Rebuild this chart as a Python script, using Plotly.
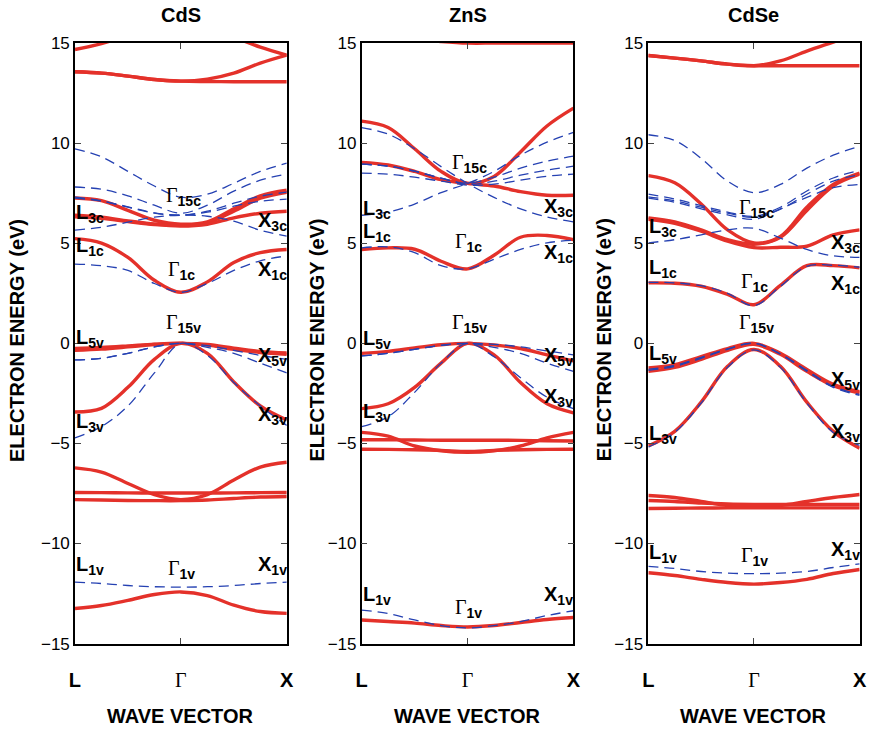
import plotly.graph_objects as go

# Wave-vector sample points along L -> Gamma -> X (Gamma at 1)
K = [0, 0.25, 0.5, 0.75, 1.0, 1.25, 1.5, 1.75, 2.0]
K_TICKS = [0, 1, 2]
K_TEXT = ["<b>L</b>", '<span style="font-family:Liberation Serif">Γ</span>', "<b>X</b>"]
E_TICKS = [-15, -10, -5, 0, 5, 10, 15]
MATERIALS = ["CdS", "ZnS", "CdSe"]

# ---------------- CdS ----------------
cds_red = [
    [14.68, 14.97, 15.4, 15.8, 16.0, 15.8, 15.3, 14.8, 14.4],
    [13.57, 13.5, 13.35, 13.18, 13.1, 13.2, 13.5, 14.0, 14.4],
    [13.57, 13.5, 13.35, 13.18, 13.1, 13.08, 13.07, 13.07, 13.07],
    [7.26, 7.13, 6.64, 6.15, 5.95, 6.07, 6.72, 7.37, 7.65],
    [6.4, 6.3, 6.12, 5.96, 5.9, 6.02, 6.6, 7.25, 7.55],
    [6.32, 6.24, 6.08, 5.93, 5.86, 5.95, 6.27, 6.5, 6.6],
    [5.23, 5.01, 4.29, 3.15, 2.55, 3.07, 4.04, 4.53, 4.69],
    [-0.25, -0.21, -0.13, -0.04, 0, -0.06, -0.24, -0.4, -0.48],
    [-0.35, -0.29, -0.18, -0.06, 0, -0.09, -0.3, -0.46, -0.55],
    [-3.43, -3.25, -2.2, -0.8, 0, -0.5, -1.93, -3.13, -3.83],
    [-6.22, -6.43, -7.0, -7.56, -7.81, -7.56, -6.83, -6.18, -5.94],
    [-7.45, -7.46, -7.47, -7.48, -7.48, -7.48, -7.47, -7.46, -7.45],
    [-7.81, -7.83, -7.85, -7.86, -7.86, -7.83, -7.75, -7.68, -7.65],
    [-13.25, -13.1, -12.84, -12.55, -12.42, -12.6, -13.08, -13.4, -13.49],
]
cds_blue = [
    [9.72, 9.32, 8.59, 7.86, 7.3, 7.45, 8.0, 8.59, 9.0],
    [7.81, 7.7, 7.37, 6.9, 6.5, 6.9, 7.6, 8.15, 8.45],
    [7.26, 7.1, 6.8, 6.5, 6.4, 6.6, 7.0, 7.35, 7.55],
    [7.3, 7.12, 6.82, 6.52, 6.4, 6.55, 6.85, 7.1, 7.2],
    [5.66, 5.8, 6.05, 6.3, 6.4, 6.35, 6.1, 5.65, 5.36],
    [3.96, 3.88, 3.64, 2.99, 2.55, 2.99, 3.64, 4.12, 4.37],
    [-0.83, -0.75, -0.5, -0.18, 0, -0.12, -0.35, -0.6, -0.8],
    [-0.83, -0.75, -0.5, -0.18, 0, -0.2, -0.5, -0.99, -1.48],
    [-4.72, -4.16, -3.13, -1.48, 0, -0.6, -1.96, -3.13, -4.1],
    [-11.93, -12.0, -12.1, -12.16, -12.18, -12.16, -12.1, -12.0, -11.93],
]

# ---------------- ZnS ----------------
zns_red = [
    [15.6, 15.4, 15.2, 15.08, 15.0, 15.0, 15.0, 15.0, 15.0],
    [11.1, 10.78, 9.72, 8.59, 7.99, 8.34, 9.56, 10.86, 11.75],
    [9.04, 8.91, 8.59, 8.18, 7.99, 7.86, 7.58, 7.4, 7.4],
    [4.69, 4.77, 4.7, 4.1, 3.72, 4.4, 5.3, 5.39, 5.18],
    [-0.5, -0.4, -0.23, -0.07, 0, -0.08, -0.26, -0.58, -0.88],
    [-3.26, -3.02, -2.2, -0.99, 0, -0.58, -1.96, -3.02, -3.47],
    [-4.45, -4.64, -5.13, -5.37, -5.45, -5.37, -5.13, -4.72, -4.45],
    [-4.82, -4.82, -4.83, -4.84, -4.84, -4.84, -4.85, -4.87, -4.88],
    [-5.29, -5.3, -5.32, -5.35, -5.4, -5.35, -5.32, -5.3, -5.29],
    [-13.82, -13.9, -13.98, -14.1, -14.17, -14.1, -13.95, -13.8, -13.7],
]
zns_blue = [
    [10.78, 10.45, 9.72, 8.83, 7.99, 7.29, 6.72, 6.31, 6.07],
    [6.4, 6.56, 6.96, 7.53, 7.99, 8.59, 9.4, 10.05, 10.54],
    [8.95, 8.85, 8.6, 8.25, 8.0, 8.3, 8.75, 9.1, 9.35],
    [8.95, 8.85, 8.6, 8.25, 7.95, 8.1, 8.4, 8.65, 8.85],
    [8.5, 8.45, 8.3, 8.1, 7.9, 7.95, 8.15, 8.35, 8.45],
    [4.77, 4.82, 4.53, 3.88, 3.72, 4.2, 4.69, 5.02, 5.15],
    [-0.63, -0.5, -0.3, -0.1, 0, -0.05, -0.18, -0.38, -0.58],
    [-0.63, -0.5, -0.3, -0.1, 0, -0.2, -0.5, -0.99, -1.4],
    [-4.16, -3.67, -2.45, -0.99, 0, -0.67, -1.72, -2.69, -3.26],
    [-13.33, -13.5, -13.82, -14.1, -14.22, -14.1, -13.9, -13.6, -13.36],
]

# ---------------- CdSe ----------------
cdse_red = [
    [14.38, 14.25, 14.11, 13.95, 13.87, 13.87, 13.87, 13.87, 13.87],
    [14.38, 14.25, 14.11, 13.95, 13.87, 14.11, 14.6, 15.05, 15.5],
    [8.38, 8.02, 6.96, 5.67, 5.02, 5.34, 6.8, 7.94, 8.5],
    [6.27, 6.07, 5.67, 5.18, 4.95, 5.3, 6.64, 7.86, 8.45],
    [6.2, 6.0, 5.6, 5.1, 4.78, 4.8, 4.85, 5.42, 5.67],
    [3.02, 3.0, 2.85, 2.45, 1.93, 2.9, 3.88, 3.88, 3.77],
    [-1.23, -1.07, -0.67, -0.26, 0, -0.5, -1.31, -2.05, -2.42],
    [-1.4, -1.2, -0.8, -0.35, -0.05, -0.55, -1.4, -2.12, -2.48],
    [-5.13, -4.4, -2.94, -1.15, -0.31, -1.15, -2.94, -4.4, -5.24],
    [-7.6, -7.7, -7.9, -8.1, -8.15, -8.1, -7.9, -7.7, -7.55],
    [-7.85, -7.9, -7.98, -8.03, -8.05, -8.05, -8.05, -8.05, -8.05],
    [-8.25, -8.24, -8.23, -8.22, -8.22, -8.22, -8.22, -8.22, -8.22],
    [-11.46, -11.6, -11.79, -11.95, -12.03, -11.95, -11.79, -11.5, -11.3],
]
cdse_blue = [
    [10.42, 10.13, 9.24, 8.1, 7.53, 7.94, 8.75, 9.4, 9.85],
    [7.45, 7.21, 6.88, 6.56, 6.35, 6.8, 7.61, 8.26, 8.64],
    [7.32, 7.12, 6.8, 6.5, 6.3, 6.7, 7.45, 8.1, 8.43],
    [7.25, 7.05, 6.72, 6.42, 6.2, 6.72, 7.29, 7.78, 7.94],
    [5.02, 5.18, 5.42, 5.67, 5.75, 5.26, 4.69, 4.37, 4.29],
    [3.05, 3.02, 2.88, 2.5, 1.88, 2.85, 3.85, 3.9, 3.8],
    [-1.35, -1.15, -0.75, -0.3, 0, -0.55, -1.4, -2.2, -2.6],
    [-1.3, -1.1, -0.7, -0.28, 0, -0.52, -1.35, -2.15, -2.55],
    [-5.18, -4.45, -2.98, -1.2, -0.33, -1.2, -2.98, -4.45, -5.1],
    [-11.14, -11.25, -11.4, -11.48, -11.51, -11.48, -11.4, -11.2, -11.02],
]

# Symmetry-point labels: (point, subscript, energy of the label)
cds_labels = [
    ("L", "3c", 6.48), ("L", "1c", 4.82), ("L", "5v", 0.24), ("L", "3v", -3.95), ("L", "1v", -11.1),
    ("G", "15c", 7.16), ("G", "1c", 3.46), ("G", "15v", 0.78), ("G", "1v", -11.5),
    ("X", "3c", 6.09), ("X", "1c", 3.65), ("X", "5v", -0.68), ("X", "3v", -3.6), ("X", "1v", -11.1),
]
zns_labels = [
    ("L", "3c", 6.67), ("L", "1c", 5.55), ("L", "5v", 0.19), ("L", "3v", -3.46), ("L", "1v", -12.6),
    ("G", "15c", 8.77), ("G", "1c", 4.82), ("G", "15v", 0.78), ("G", "1v", -13.44),
    ("X", "3c", 6.77), ("X", "1c", 4.48), ("X", "5v", -0.68), ("X", "3v", -2.73), ("X", "1v", -12.6),
]
cdse_labels = [
    ("L", "3c", 5.8), ("L", "1c", 3.75), ("L", "5v", -0.54), ("L", "3v", -4.53), ("L", "1v", -10.52),
    ("G", "15c", 6.53), ("G", "1c", 2.83), ("G", "15v", 0.78), ("G", "1v", -10.86),
    ("X", "3c", 4.97), ("X", "1c", 2.92), ("X", "5v", -1.85), ("X", "3v", -4.43), ("X", "1v", -10.37),
]

RED = "#e4312a"
BLUE = "#2541b2"
W, H = 877, 731
SANS = "Liberation Sans, Arial, Helvetica, sans-serif"

panels = [
    (cds_red, cds_blue, cds_labels, (70, 285), 11),
    (zns_red, zns_blue, zns_labels, (361, 576), 316),
    (cdse_red, cdse_blue, cdse_labels, (652, 866.5), 607),
]
y_top_px, y_bot_px = 35, 651.5
ydom = [1 - y_bot_px / H, 1 - y_top_px / H]

fig = go.Figure()
annotations = []
layout_axes = {}

for i, (red, blue, labels, (x0, x1), ytitle_px) in enumerate(panels):
    n = "" if i == 0 else str(i + 1)
    xa, ya = "x" + n, "y" + n
    for band in red:
        fig.add_trace(go.Scatter(x=K, y=band, mode="lines", xaxis=xa, yaxis=ya,
                                 line=dict(color=RED, width=3.4, shape="spline", smoothing=1.0),
                                 showlegend=False, hoverinfo="skip"))
    for band in blue:
        fig.add_trace(go.Scatter(x=K, y=band, mode="lines", xaxis=xa, yaxis=ya,
                                 line=dict(color=BLUE, width=1.3, dash="10px,6px",
                                           shape="spline", smoothing=1.0),
                                 showlegend=False, hoverinfo="skip"))

    axis_common = dict(showline=True, linecolor="black", linewidth=1.5, mirror="ticks",
                       ticks="inside", ticklen=6, tickwidth=1, tickcolor="#444",
                       showgrid=False, zeroline=False)
    layout_axes["xaxis" + n] = dict(
        axis_common, domain=[x0 / W, x1 / W], range=[0, 2], anchor=ya,
        tickvals=K_TICKS, ticktext=K_TEXT, ticklabelstandoff=18,
        tickfont=dict(family=SANS, size=20, color="black"))
    layout_axes["yaxis" + n] = dict(
        axis_common, domain=ydom, range=[-15, 15], anchor=xa,
        tickvals=E_TICKS, tickfont=dict(family=SANS, size=17, color="black"))

    xc = (x0 + x1) / 2 / W
    annotations.append(dict(xref="paper", yref="paper", x=xc, y=1 - 6 / H,
                            text="<b>%s</b>" % MATERIALS[i], showarrow=False,
                            font=dict(family=SANS, size=20, color="black"),
                            xanchor="center", yanchor="middle"))
    annotations.append(dict(xref="paper", yref="paper", x=xc, y=1 - 726 / H,
                            text="<b>WAVE VECTOR</b>", showarrow=False,
                            font=dict(family=SANS, size=20, color="black"),
                            xanchor="center", yanchor="middle"))
    annotations.append(dict(xref="paper", yref="paper", x=ytitle_px / W, y=1 - 340 / H,
                            text="<b>ELECTRON ENERGY (eV)</b>", showarrow=False, textangle=-90,
                            font=dict(family=SANS, size=20, color="black"),
                            xanchor="center", yanchor="middle"))

    for kind, sub, e in labels:
        if kind == "L":
            txt, kx, anc, dx, dy = "<b>L<sub>%s</sub></b>" % sub, 0.0, "left", -1, 0
        elif kind == "X":
            txt, kx, anc, dx, dy = "<b>X<sub>%s</sub></b>" % sub, 2.0, "right", 2, 0
        else:
            txt = '<span style="font-family:Liberation Serif">Γ</span><b><sub>%s</sub></b>' % sub
            kx, anc, dx, dy = (0.865 if sub.startswith("15") else 0.89), "left", -3, 4
        annotations.append(dict(xref=xa, yref=ya, x=kx, y=e, text=txt, showarrow=False,
                                font=dict(family=SANS, size=20, color="black"),
                                xanchor=anc, yanchor="middle", xshift=dx, yshift=dy))

fig.update_layout(
    width=W, height=H, margin=dict(l=0, r=0, t=0, b=0),
    paper_bgcolor="white", plot_bgcolor="white",
    annotations=annotations, **layout_axes)

fig.write_html("out.html")
